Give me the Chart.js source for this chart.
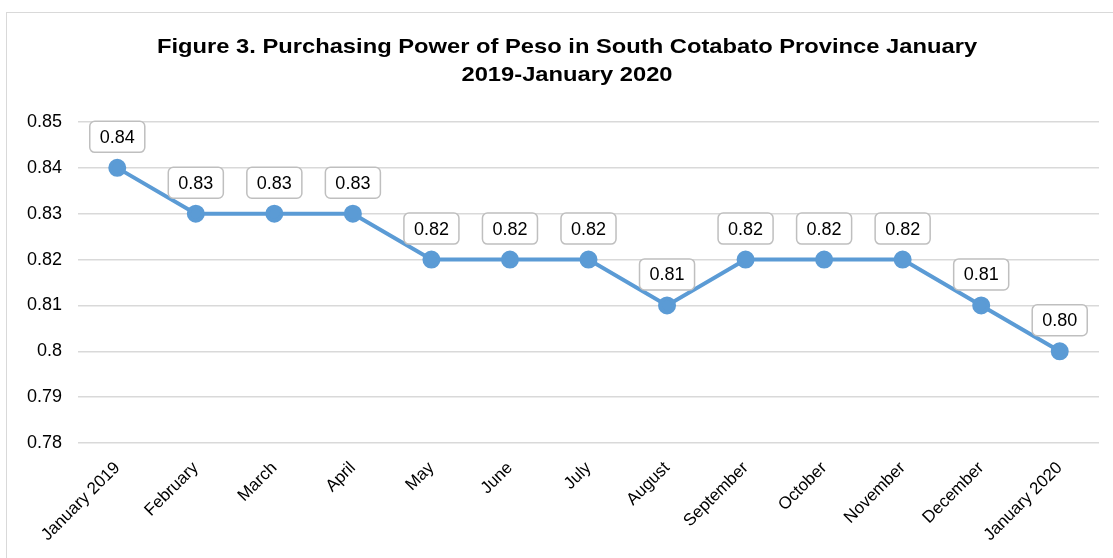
<!DOCTYPE html>
<html>
<head>
<meta charset="utf-8">
<script src="https://cdn.jsdelivr.net/npm/chart.js@4/dist/chart.umd.min.js"></script>
<style>
  html, body { margin: 0; padding: 0; background: #fff; overflow: hidden; }
  #frame { position: absolute; left: 6px; top: 12px; width: 1130px; height: 560px; border: 1.5px solid #d9d9d9; }
  #wrap { position: absolute; left: 0; top: 0; width: 1113px; height: 558px; }
</style>
</head>
<body>
<div id="frame"></div>
<div id="wrap"><canvas id="ppChart"></canvas></div>
<script>
// data
const months = ['January 2019', 'February', 'March', 'April', 'May', 'June', 'July',
  'August', 'September', 'October', 'November', 'December', 'January 2020'];
const purchasingPower = [0.84, 0.83, 0.83, 0.83, 0.82, 0.82, 0.82, 0.81, 0.82, 0.82, 0.82, 0.81, 0.80];
const yTicks = [0.78, 0.79, 0.8, 0.81, 0.82, 0.83, 0.84, 0.85];
const titleLines = ['Figure 3. Purchasing Power of Peso in South Cotabato Province January', '2019-January 2020'];

const FONT = 'Liberation Sans, Arial, sans-serif';

// title drawn by hand: centred on the frame and a bit wider than the font
const titlePlugin = {
    id: 'figTitle',
    afterDraw(chart) {
        const ctx = chart.ctx;
        ctx.save();
        ctx.font = 'bold 21px ' + FONT;
        ctx.fillStyle = '#000';
        ctx.textAlign = 'center';
        ctx.textBaseline = 'middle';
        ctx.translate(567, 0);
        ctx.scale(1.13, 1);
        titleLines.forEach((t, i) => ctx.fillText(t, 0, 47 + i * 28));
        ctx.restore();
    }
};

// boxed value labels above each point
const boxLabels = {
    id: 'boxLabels',
    afterDatasetsDraw(chart) {
        const ctx = chart.ctx;
        const meta = chart.getDatasetMeta(0);
        ctx.save();
        ctx.font = '18px ' + FONT;
        ctx.textAlign = 'center';
        ctx.textBaseline = 'middle';
        meta.data.forEach((pt, i) => {
            const txt = purchasingPower[i].toFixed(2);
            const w = ctx.measureText(txt).width + 20;
            const h = 31;
            const cx = pt.x, cy = pt.y - 31;
            ctx.beginPath();
            ctx.roundRect(cx - w / 2, cy - h / 2, w, h, 5);
            ctx.fillStyle = '#fff';
            ctx.fill();
            ctx.lineWidth = 1.5;
            ctx.strokeStyle = '#bfbfbf';
            ctx.stroke();
            ctx.fillStyle = '#000';
            ctx.fillText(txt, cx, cy + 1);
        });
        ctx.restore();
    }
};

new Chart(document.getElementById('ppChart').getContext('2d'), {
    type: 'line',
    data: {
        labels: months,
        datasets: [{
            data: purchasingPower,
            borderColor: '#5b9bd5',
            backgroundColor: '#5b9bd5',
            borderWidth: 4,
            pointRadius: 7,
            pointHoverRadius: 7,
            tension: 0
        }]
    },
    options: {
        responsive: true,
        maintainAspectRatio: false,
        animation: false,
        layout: { padding: { left: 8, right: 14, top: 122, bottom: 0 } },
        plugins: {
            legend: { display: false },
            title: { display: false },
            tooltip: { enabled: false }
        },
        scales: {
            x: {
                offset: true,
                grid: { display: false, drawTicks: false },
                border: { display: false },
                ticks: {
                    color: '#000',
                    font: { family: FONT, size: 17 },
                    maxRotation: 45,
                    minRotation: 45,
                    padding: 15,
                    autoSkip: false
                },
                afterFit: (s) => { s.height = 115; }
            },
            y: {
                min: 0.78,
                max: 0.85,
                grid: { color: '#d9d9d9', lineWidth: 1.5, drawTicks: false },
                border: { display: false },
                afterBuildTicks: (s) => { s.ticks = yTicks.map(v => ({ value: v })); },
                ticks: {
                    color: '#000',
                    font: { family: FONT, size: 18 },
                    padding: 16,
                    callback: (v) => String(Math.round(v * 100) / 100)
                },
                afterFit: (s) => { s.width = 70; }
            }
        }
    },
    plugins: [titlePlugin, boxLabels]
});
</script>
</body>
</html>
